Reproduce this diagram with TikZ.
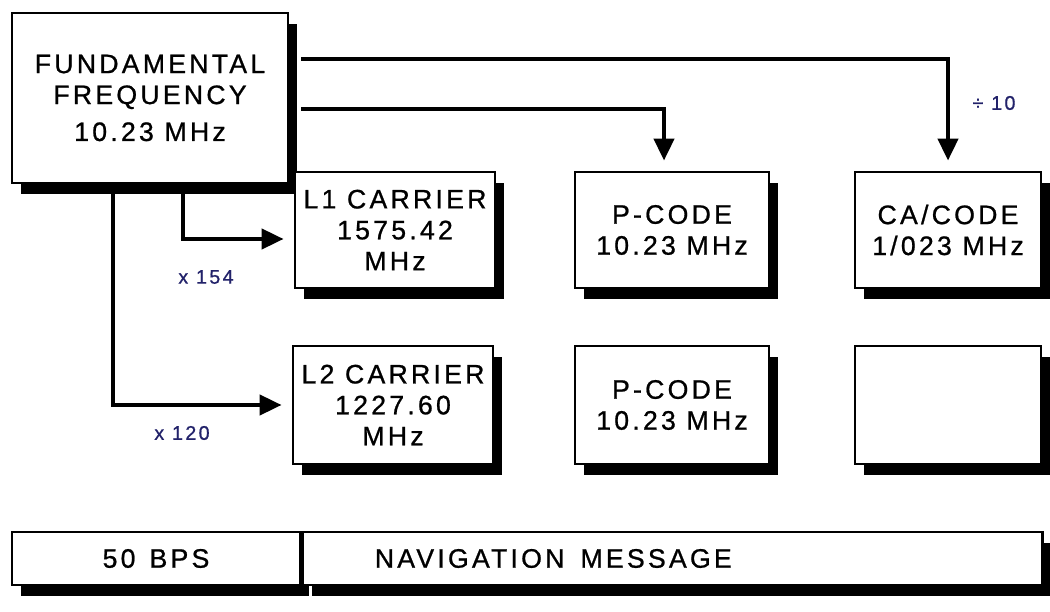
\documentclass[tikz,border=0pt]{standalone}
\usepackage{fontspec}
\setmainfont{Liberation Sans}
\newfontfamily\boxfont{Liberation Sans}[LetterSpace=12, FakeBold=0.8]
\usepackage{xcolor}
\usetikzlibrary{arrows.meta, positioning, shadows}
\definecolor{factorblue}{HTML}{22226A}

\begin{document}
\begin{tikzpicture}[
  blockbox/.style={rectangle, draw, line width=2pt, fill=white, inner xsep=0pt, align=center,
    font=\boxfont\fontsize{19}{22}\selectfont,
    drop shadow={shadow xshift=0.22cm, shadow yshift=-0.28cm, fill=black, opacity=1}},
  arrow/.style={-{Triangle[length=0.55cm, width=0.5cm]}, line width=3pt, shorten >=0.25cm},
  factor/.style={font=\boxfont\fontsize{14}{16}\selectfont, text=factorblue}
]
\useasboundingbox[fill=white] (0,0) rectangle (26.25,15.275);

\node[blockbox, minimum width=6.9cm, minimum height=4.25cm] (fund) at (3.75,12.825) {FUNDAMENTAL\\FREQUENCY\\[0.15cm]10.23 MHz};
\node[blockbox, minimum width=5cm, minimum height=2.9cm] (l1) at (9.875,9.525) {L1 CARRIER\\1575.42\\MHz};
\node[blockbox, minimum width=4.85cm, minimum height=2.9cm] (pa) at (16.8,9.525) {P-CODE\\10.23 MHz};
\node[blockbox, minimum width=4.65cm, minimum height=2.9cm] (ca) at (23.7,9.525) {CA/CODE\\1/023 MHz};
\node[blockbox, minimum width=5cm, minimum height=2.95cm] (l2) at (9.825,5.15) {L2 CARRIER\\1227.60\\MHz};
\node[blockbox, minimum width=4.85cm, minimum height=2.95cm] (pb) at (16.8,5.15) {P-CODE\\10.23 MHz};
\node[blockbox, minimum width=4.65cm, minimum height=2.95cm] (spare) at (23.7,5.15) {};

\node[blockbox, minimum width=7.2cm, minimum height=1.325cm] (bps) at (3.9,1.3125) {50\hspace{0.35cm}BPS};
\node[blockbox, minimum height=1.325cm, inner xsep=1.8cm, text width=14.9cm, align=left, anchor=west] (nav) at (bps.east) {NAVIGATION\hspace{0.4cm}MESSAGE};

\draw[arrow] ([xshift=0.3cm, yshift=0.975cm]fund.east) -| (ca.north);
\draw[arrow] ([xshift=0.3cm, yshift=-0.275cm]fund.east) -| ([xshift=-0.2cm]pa.north);
\draw[arrow] ([xshift=0.825cm]fund.south) |- ([yshift=-0.225cm]l1.west);
\draw[arrow] ([xshift=-0.925cm]fund.south) |- (l2.west);

\node[factor] (div) at (24.85,12.7) {÷ 10};
\node[factor] (mul1) at (5.15,8.35) {x 154};
\node[factor] (mul2) at (4.55,4.45) {x 120};
\end{tikzpicture}
\end{document}
